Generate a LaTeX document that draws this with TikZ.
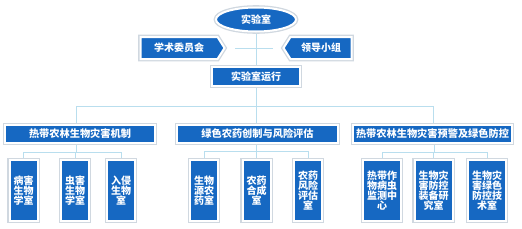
\documentclass[tikz,border=0pt]{standalone}
\usepackage{fontspec}
\newfontfamily\cjk{Noto Sans CJK SC}
\usetikzlibrary{shapes.geometric,shapes.symbols,backgrounds}
\definecolor{mblue}{RGB}{22,104,194}
\definecolor{lline}{RGB}{185,222,238}
\definecolor{glow}{RGB}{208,216,224}
\tikzset{
  blk/.style={fill=mblue, draw=white, line width=2pt,
    preaction={draw=glow, line width=4.6pt}, text=white,
    font=\cjk\bfseries\fontsize{10}{10}\selectfont, inner sep=0pt, align=center},
  catbox/.style={blk, rectangle, minimum width=#1, minimum height=18pt},
  subbox/.style={blk, rectangle, minimum width=#1, minimum height=61pt},
  conn/.style={draw=lline, line width=0.9pt},
}
\begin{document}
\begin{tikzpicture}[x=1pt,y=-1pt]
\useasboundingbox (0,0) rectangle (522,228);
% top
\node[blk, ellipse, minimum width=80pt, minimum height=24pt] (lab) at (256,19.5) {实验室};
\node[blk, signal, signal to=east, signal pointer angle=115, minimum width=84pt, minimum height=22pt] (xs) at (179,48) {学术委员会};
\node[blk, signal, signal to=west, signal pointer angle=115, minimum width=68pt, minimum height=22pt] (ld) at (321,48) {领导小组};
\node[catbox=88pt, minimum height=19pt] (run) at (256,76.5) {实验室运行};
% categories
\node[catbox=150pt, font=\cjk\bfseries\fontsize{10.2}{10.2}\selectfont] (c1) at (80,134) {热带农林生物灾害机制};
\node[catbox=161pt, font=\cjk\bfseries\fontsize{10.2}{10.2}\selectfont] (c2) at (257.5,134) {绿色农药创制与风险评估};
\node[catbox=159pt, font=\cjk\bfseries\fontsize{10.2}{10.2}\selectfont] (c3) at (432.5,134) {热带农林生物灾害预警及绿色防控};
% sub boxes
\node[subbox=28pt] (s11) at (23.5,190.5) {病害\\生物\\学室};
\node[subbox=28pt] (s12) at (75,190.5) {虫害\\生物\\学室};
\node[subbox=28pt] (s13) at (121,190.5) {入侵\\生物\\室};
\node[subbox=28pt] (s21) at (204,190.5) {生物\\源农\\药室};
\node[subbox=28pt] (s22) at (256.5,190.5) {农药\\合成\\室};
\node[subbox=28pt] (s23) at (308,190.5) {农药\\风险\\评估\\室};
\node[subbox=38pt] (s31) at (382,190.5) {热带作\\物病虫\\监测中\\心};
\node[subbox=38pt] (s32) at (433.5,190.5) {生物灾\\害防控\\装备研\\究室};
\node[subbox=38pt] (s33) at (487,190.5) {生物灾\\害绿色\\防控技\\术室};
% connectors
\coordinate (ha) at (235,48);
\coordinate (hb) at (273,48);
\coordinate (jt) at (256,106);
\coordinate (j1) at (76,106);
\coordinate (j2) at (256,106);
\coordinate (j3) at (433,106);
\coordinate (k1) at (76,152);
\coordinate (k2) at (256,151);
\coordinate (k3) at (434,152);
\begin{scope}[on background layer]
  \fill[white] (0,0) rectangle (522,228);
  \draw[conn] (lab) -- (run);
  \draw[conn] (ha) -- (hb);
  \draw[conn] (run.south) -- (jt);
  \draw[conn] (j1) -- (j3);
  \draw[conn] (j1) -- (j1 |- c1.north);
  \draw[conn] (j2) -- (j2 |- c2.north);
  \draw[conn] (j3) -- (j3 |- c3.north);
  \draw[conn] (k1 |- c1.south) -- (k1);
  \draw[conn] (k2 |- c2.south) -- (k2);
  \draw[conn] (k3 |- c3.south) -- (k3);
  \draw[conn] (s11.north |- k1) -- (s13.north |- k1);
  \draw[conn] (s21.north |- k2) -- (s23.north |- k2);
  \draw[conn] (s31.north |- k3) -- (s33.north |- k3);
  \foreach \s/\k in {s11/k1,s12/k1,s13/k1,s21/k2,s22/k2,s23/k2,s31/k3,s32/k3,s33/k3}
    \draw[conn] (\s.north |- \k) -- (\s.north);
\end{scope}
\end{tikzpicture}
\end{document}
